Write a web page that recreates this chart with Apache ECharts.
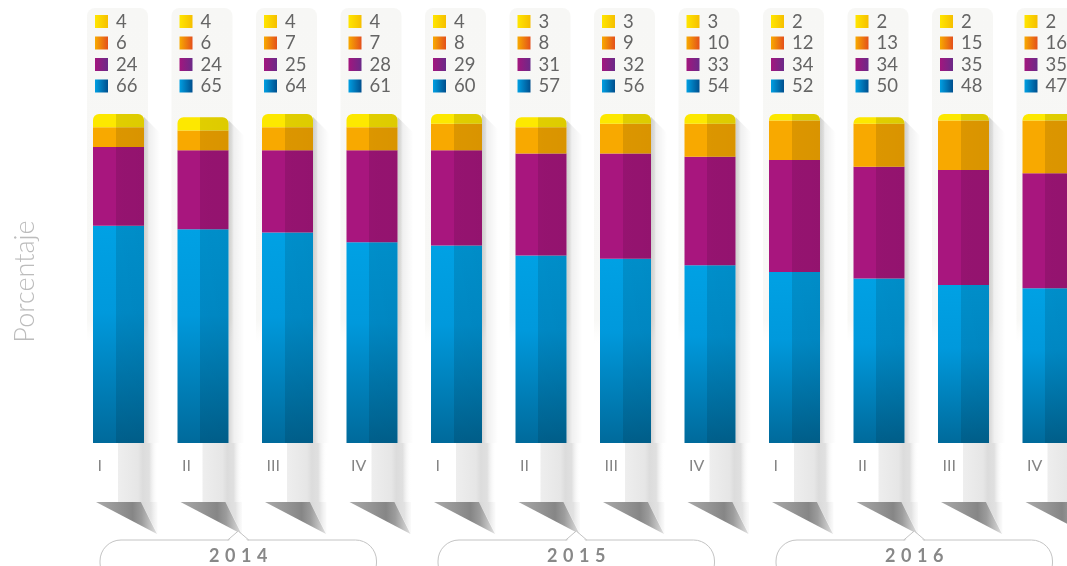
<!DOCTYPE html>
<html><head><meta charset="utf-8">
<script src="https://cdn.jsdelivr.net/npm/echarts@6/dist/echarts.min.js"></script>
<style>html,body{margin:0;padding:0;background:#fff}#c{width:1067px;height:566px}</style>
</head><body><div id="c"></div>
<script>
// ---- data ----
const categories = ['I','II','III','IV','I','II','III','IV','I','II','III','IV'];
const years = ['2014','2015','2016'];
const yearSpans = [[0,3],[4,7],[8,11]];
const blue   = [66,65,64,61,60,57,56,54,52,50,48,47];
const purple = [24,24,25,28,29,31,32,33,34,34,35,35];
const orange = [6,6,7,7,8,8,9,10,12,13,15,16];
const yellow = [4,4,4,4,4,3,3,3,2,2,2,2];
const axisName = 'Porcentaje';

// ---- style ----
const FONT = 'Lato, "Open Sans", sans-serif';
const BAR_W = 51;
function lg(stops, x2, y2){
  return new echarts.graphic.LinearGradient(0,0,x2,y2, stops.map(s=>({offset:s[0],color:s[1]})));
}
const totals = categories.map((_,i)=>blue[i]+purple[i]+orange[i]+yellow[i]);

const segs = [
  {data: blue,   color: lg([[0,'#00a1e4'],[0.4,'#0099dc'],[1,'#006a9b']],0,1)},
  {data: purple, color: '#a8167e'},
  {data: orange, color: '#f8a900'},
  {data: yellow, color: '#fde800', radius:[6,6,0,0]}
];
const swatches = [
  lg([[0,'#ffe600'],[1,'#f6bf00']],1,0),
  lg([[0,'#f8aa00'],[1,'#e4501b']],1,0),
  lg([[0,'#a3167e'],[1,'#6b2a88']],1,0),
  lg([[0,'#009fe2'],[1,'#004f8e']],1,0)
];
const rowVals = [yellow, orange, purple, blue];
const shade = lg([[0,'rgba(0,0,0,0)'],[0.45,'rgba(0,0,0,0)'],[0.45,'rgba(0,0,0,0.115)'],[1,'rgba(0,0,0,0.125)']],1,0);

const chart = echarts.init(document.getElementById('c'), null, {renderer:'canvas'});

function renderDeco(params, api){
  const i = api.value(0);
  const base = api.coord([i, 0]);
  const top = api.coord([i, api.value(1)]);
  const c = base[0], yb = base[1], yt = top[1];
  const h = BAR_W/2;
  return {type:'group', children:[
    {type:'rect', shape:{x:c-31.5, y:8, width:61, height:335, r:[8,8,0,0]},
     style:{fill: lg([[0,'#f7f7f5'],[0.93,'#f8f8f6'],[1,'rgba(250,250,248,0)']],0,1)}},
    {type:'polygon', shape:{points:[[c+h,yt+3],[c+h+16,yt+19],[c+h+16,yb],[c+h,yb]]},
     style:{fill: lg([[0,'rgba(0,0,0,0.17)'],[0.35,'rgba(0,0,0,0.06)'],[1,'rgba(0,0,0,0)']],1,0)}},
    {type:'rect', shape:{x:c-0.5, y:yb, width:40, height:59},
     style:{fill: lg([[0,'#eeeeee'],[0.5,'#e6e6e6'],[0.62,'#dcdcdc'],[0.78,'#e0e0e0'],[1,'rgba(255,255,255,0)']],1,0)}},
    {type:'polygon', shape:{points:[[c+22.5,yb+59],[c+39,yb+59],[c+39,yb+91]]},
     style:{fill: lg([[0,'#d8d8d8'],[0.6,'#e2e2e2'],[1,'rgba(240,240,240,0.3)']],1,0)}},
    {type:'polygon', shape:{points:[[c-22.5,yb+59],[c+22.5,yb+59],[c+38.5,yb+91]]},
     style:{fill: lg([[0,'#a9a9a9'],[0.6,'#868686'],[0.75,'#9c9c9c'],[1,'#e0e0e0']],1,0)}},
    {type:'text', style:{x:c-21, y:yb+23, text:categories[i], fill:'#858585', font:'16px '+FONT, verticalAlign:'middle', align:'left'}}
  ]};
}

function renderLabels(params, api){
  const i = api.value(0);
  const c = api.coord([i, 0])[0];
  const rowY = [21.5, 43, 64.5, 86];
  const ch = [];
  rowVals.forEach((arr, k)=>{
    ch.push({type:'rect', shape:{x:c-23.5, y:rowY[k]-6.5, width:13, height:13}, style:{fill: swatches[k]}});
    ch.push({type:'text', style:{x:c-2.5, y:rowY[k]+0.5, text:String(arr[i]), fill:'#656565', font:'18.5px '+FONT, verticalAlign:'middle', align:'left'}});
  });
  return {type:'group', children: ch};
}

function renderYears(params, api){
  const a = api.coord([api.value(0), 0])[0] - 18.5;
  const b = api.coord([api.value(1), 0])[0] + 4.5;
  const mid = (a+b)/2;
  const yTop = 540;
  return {type:'group', children:[
    {type:'rect', shape:{x:a, y:yTop, width:b-a, height:44, r:21}, style:{fill:'#fff', stroke:'#c4c4c4', lineWidth:1}},
    {type:'polygon', shape:{points:[[mid-10,yTop+1.5],[mid,yTop-9],[mid+10,yTop+1.5]]}, style:{fill:'#fff'}},
    {type:'polyline', shape:{points:[[mid-10.5,yTop],[mid,yTop-9],[mid+10.5,yTop]]}, style:{fill:null, stroke:'#c4c4c4', lineWidth:1}},
    {type:'text', style:{x:mid, y:yTop+16, text:years[params.dataIndex].split('').join(' \u200A'), fill:'#888888', font:'bold 18px '+FONT, align:'center', verticalAlign:'middle'}}
  ]};
}

const series = [
  {type:'custom', z:1, clip:false, silent:true, renderItem: renderDeco,
   data: categories.map((_,i)=>[i, totals[i]]), encode:{x:0, y:1}},
];
segs.forEach(s=>{
  series.push({type:'bar', stack:'a', z:3, barWidth:BAR_W, barGap:'-100%', data:s.data, silent:true,
    itemStyle:{color:s.color, borderRadius:s.radius||0}});
});
segs.forEach(s=>{
  series.push({type:'bar', stack:'shade', z:4, barWidth:BAR_W, barGap:'-100%', data:s.data, silent:true,
    itemStyle:{color:shade, borderRadius:s.radius||0}});
});
series.push({type:'custom', z:5, clip:false, silent:true, renderItem: renderLabels,
  data: categories.map((_,i)=>[i, 0]), encode:{x:0, y:1}});
series.push({type:'custom', z:5, clip:false, silent:true, renderItem: renderYears,
  data: yearSpans.map(s=>[s[0], s[1], 0]), encode:{x:[0,1], y:2}});

chart.setOption({
  animation:false,
  backgroundColor:'#fff',
  grid:{left:76.25, top:114, width:1014, height:329, outerBoundsMode:'none'},
  xAxis:{type:'category', data:categories, axisLine:{show:false}, axisTick:{show:false}, axisLabel:{show:false}, splitLine:{show:false}},
  yAxis:{type:'value', min:0, max:100, axisLine:{show:false}, axisTick:{show:false}, axisLabel:{show:false}, splitLine:{show:false},
    name:axisName, nameLocation:'middle', nameRotate:90, nameGap:37,
    nameTextStyle:{color:'#bcbcbc', fontSize:27, fontFamily:FONT, fontWeight:300, padding:[0,6,0,0]}},
  series: series
});
</script></body></html>
